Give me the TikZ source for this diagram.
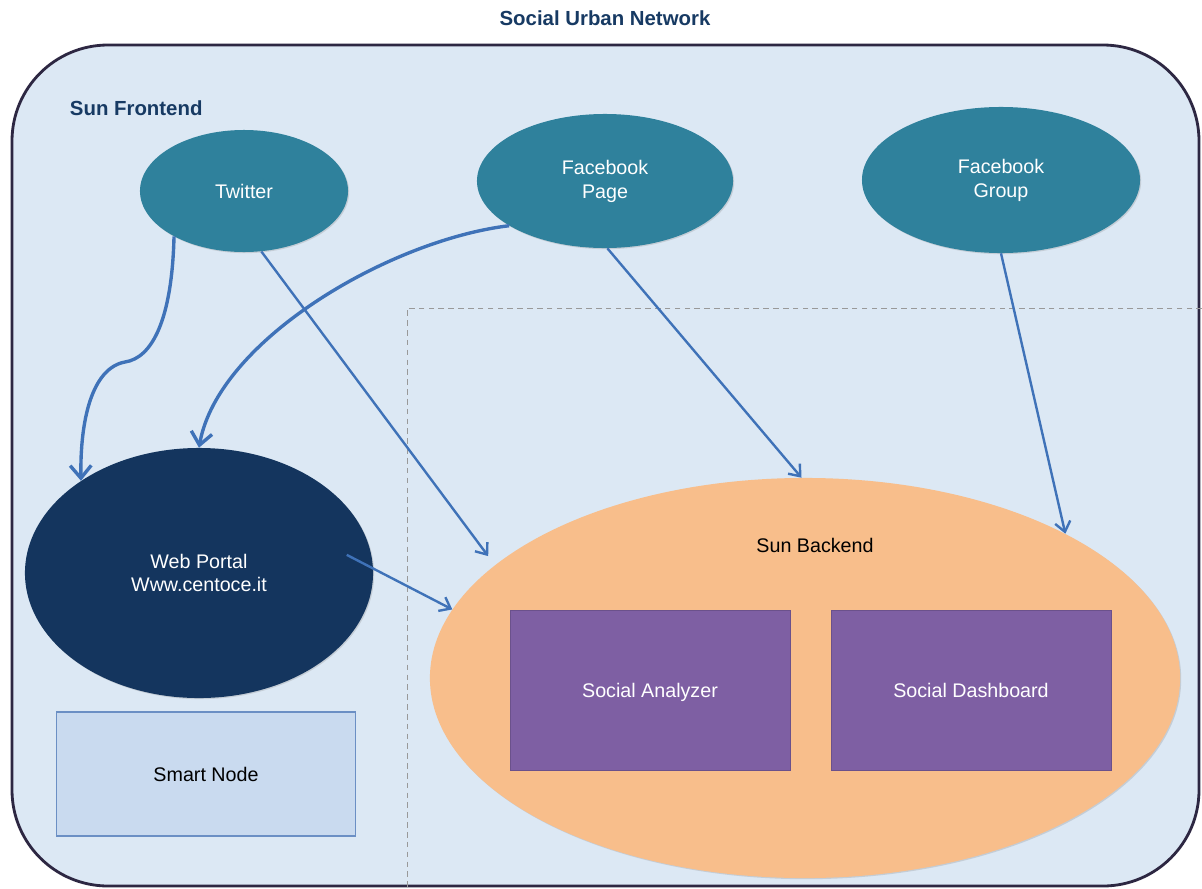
\documentclass[tikz,border=0pt]{standalone}
\usepackage{fontspec}
\setmainfont{Liberation Sans}
\usetikzlibrary{shapes.geometric,arrows.meta,calc,shadows}
\definecolor{frameFill}{HTML}{DCE8F4}
\definecolor{frameLine}{HTML}{2D2742}
\definecolor{titleNavy}{HTML}{173A63}
\definecolor{tealBlue}{HTML}{2F819C}
\definecolor{portalNavy}{HTML}{14355E}
\definecolor{backOrange}{HTML}{F8BE8B}
\definecolor{modPurple}{HTML}{7E5FA3}
\definecolor{smartFill}{HTML}{C9DAEF}
\definecolor{smartLine}{HTML}{6B8FC4}
\definecolor{feedBlue}{HTML}{3F72B8}
\begin{document}
\begin{tikzpicture}[x=0.025cm, y=-0.025cm,
  every node/.style={font=\fontsize{14}{17}\selectfont, align=center},
  heading/.style={font=\fontsize{14.5}{17}\selectfont\bfseries, text=titleNavy},
  softshadow/.style={drop shadow={shadow xshift=0.8pt, shadow yshift=-0.8pt, opacity=0.25}},
  channel/.style={ellipse, fill=tealBlue, text=white, inner sep=0pt, softshadow},
  modbox/.style={rectangle, fill=modPurple, draw=modPurple!85!black, line width=0.6pt, text=white,
    minimum width=7cm, minimum height=4cm, text height=10pt, text depth=0pt, softshadow},
  feed/.style={draw=feedBlue, line width=1.7pt, -{Straight Barb[length=7pt,width=11pt]}},
  feedcurve/.style={feed, line width=2.4pt, -{Straight Barb[length=9pt,width=15pt]}}]
\useasboundingbox (0,0) rectangle (1202,888);
\fill[white] (0,0) rectangle (1202,888);
% frame
\draw[draw=frameLine, fill=frameFill, line width=2pt, rounded corners=2.4cm] (12,45) rectangle (1199,886);
\draw[dashed, gray!80, line width=0.7pt, dash pattern=on 4pt off 3pt] (1202,308) -- (407,308) -- (407,888);
% titles
\node[heading] (title) at (605,18) {Social Urban Network};
\node[heading, anchor=west] (front) at (65,108) {Sun Frontend};
% frontend
\node[channel, minimum width=5.2cm, minimum height=3.05cm] (tw) at (244,191) {Twitter};
\node[channel, minimum width=6.4cm, minimum height=3.35cm] (fbp) at (605,181) {Facebook\\Page};
\node[channel, minimum width=6.95cm, minimum height=3.65cm] (fbg) at (1001,180) {Facebook\\Group};
\node[channel, fill=portalNavy, minimum width=8.7cm, minimum height=6.25cm] (web) at (199,573) {Web Portal\\Www.centoce.it};
\node[draw=smartLine, fill=smartFill, line width=1pt, minimum width=7.475cm, minimum height=3.1cm] (smart) at (206,774) {Smart Node};
% backend
\node[ellipse, fill=backOrange, inner sep=0pt, minimum width=18.75cm, minimum height=10cm, softshadow] (back) at (805,678) {};
\node (backlbl) at (815,545) {Sun Backend};
\node[modbox] (ana) at (650,690) {Social Analyzer};
\node[modbox] (dash) at (971,690) {Social Dashboard};
% arrows
\draw[feedcurve] (tw.213) .. controls (172,320) and (152,358) .. (125,362) .. controls (92,368) and (80,420) .. (web.142);
\draw[feedcurve] (fbp.205) .. controls (390,240) and (218,340) .. (web.90);
\draw[feed, shorten >=8pt] (tw.286) -- (back.160);
\draw[feed] ($(web.center)!0.86!(web.7)$) -- (back.169);
\draw[feed] (fbp.272) -- (back.91);
\draw[feed] (fbg.270) -- (back.29);
\end{tikzpicture}
\end{document}
